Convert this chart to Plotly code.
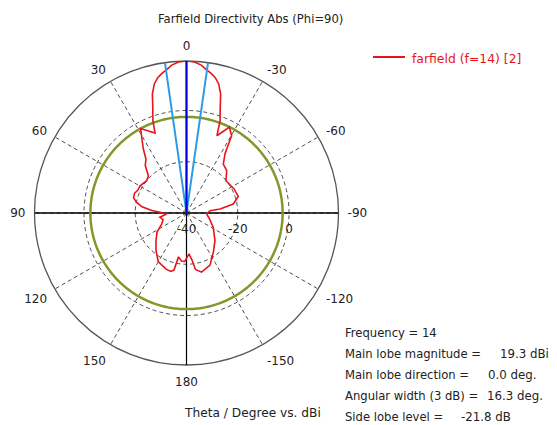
import plotly.graph_objects as go
import numpy as np

# ---- data ----
theta_deg = [0, 3, 5.7, 8.15, 10, 12, 14, 16, 17.7, 20, 21.5, 28.5, 31, 34, 37, 41, 45.7, 51,
             59.6, 65, 69, 74, 78, 82, 86, 88.5, 93, 99, 106, 114, 123, 132.6, 141.3, 149.8,
             160, 165, 167.6, 169.7, 174, 178, 183.5, 186.7, 189, 194.3, 204.3, 214.5, 225.8,
             242, 257.5, 267, 275.6, 276.8, 280.9, 287.7, 296.8, 309.3, 316.5, 323.1, 326.9,
             327.9, 329.7, 333.5, 338.5, 340, 342.3, 344, 346, 348, 350, 351.85, 354.3, 357, 360]
directivity_dbi = [19.3, 19.0, 18.0, 16.3, 15.3, 14.0, 11.9, 8.3, 3.3, -1.7, -6.5, -2.5, -6.2, -9.9,
                   -13.7, -15.5, -19.2, -20.0, -19.0, -19.0, -18.3, -18.5, -20.1, -22.5, -26.4,
                   -29.7, -32.2, -29.5, -30.5, -29.4, -26.3, -23.8, -21.0, -18.1, -16.7, -16.4,
                   -17.2, -22.6, -21.2, -21.1, -24.0, -21.5, -17.7, -16.2, -17.7, -21.5, -24.5,
                   -28.2, -31.0, -32.1, -30.8, -26.8, -21.4, -18.8, -19.2, -20.1, -17.2, -16.1,
                   -12.5, -10.5, -5.1, -2.5, -7.6, -1.7, 3.3, 8.3, 11.9, 14.0, 15.3, 16.3, 18.0,
                   19.0, 19.3]

main_lobe_magnitude = 19.3      # dBi
main_lobe_direction = 0.0       # deg
angular_width_3db = 16.3        # deg
side_lobe_level = -21.8         # dB
r_min, r_max = -40, 19.3

angle_tickvals = [0, 30, 60, 90, 120, 150, 180, 210, 240, 270, 300, 330]
angle_ticktext = ["0", "30", "60", "90", "120", "150", "180", "-150", "-120", "-90", "-60", "-30"]
radial_tickvals = [-40, -20, 0]
radial_ticktext = ["-40", "-20", "0"]

FONT = "DejaVu Sans"
FS = 11.5
TXT = "#222"
W, H = 557, 425

fig = go.Figure()

# solid cross axes
fig.add_trace(go.Scatterpolar(r=[r_max, r_min, r_max], theta=[90, 90, 270], mode="lines",
                              line=dict(color="black", width=1.3), hoverinfo="skip"))
fig.add_trace(go.Scatterpolar(r=[r_max, r_min, r_max], theta=[0, 0, 180], mode="lines",
                              line=dict(color="black", width=1.2), hoverinfo="skip"))

# side lobe level circle
circ_theta = np.linspace(0, 360, 361)
fig.add_trace(go.Scatterpolar(r=[main_lobe_magnitude + side_lobe_level] * len(circ_theta),
                              theta=circ_theta, mode="lines",
                              line=dict(color="#7f9a2a", width=2.5), hoverinfo="skip"))

# farfield pattern
fig.add_trace(go.Scatterpolar(r=directivity_dbi, theta=theta_deg, mode="lines",
                              line=dict(color="#e8141c", width=1.6), hoverinfo="skip"))

# 3 dB beamwidth lines
half = angular_width_3db / 2
fig.add_trace(go.Scatterpolar(r=[r_max, r_min, r_max],
                              theta=[main_lobe_direction + half, main_lobe_direction,
                                     main_lobe_direction - half],
                              mode="lines", line=dict(color="#2f9be6", width=2), hoverinfo="skip"))
# main lobe direction
fig.add_trace(go.Scatterpolar(r=[r_min, r_max], theta=[main_lobe_direction, main_lobe_direction],
                              mode="lines", line=dict(color="#0000e0", width=2.2), hoverinfo="skip"))

# radial tick labels below the horizontal axis
fig.add_trace(go.Scatterpolar(r=radial_tickvals, theta=[270] * len(radial_tickvals),
                              mode="markers+text",
                              marker=dict(size=16, color="rgba(0,0,0,0)"),
                              text=radial_ticktext, textposition="bottom center",
                              textfont=dict(family=FONT, size=12, color=TXT),
                              hoverinfo="skip"))

fig.update_layout(
    width=W, height=H,
    margin=dict(l=0, r=0, t=0, b=0),
    paper_bgcolor="white",
    showlegend=False,
    font=dict(family=FONT, size=FS, color=TXT),
    polar=dict(
        domain=dict(x=[34.5 / W, 338.5 / W], y=[60 / H, 364 / H]),
        bgcolor="white",
        angularaxis=dict(rotation=90, direction="counterclockwise",
                         tickmode="array", tickvals=angle_tickvals, ticktext=angle_ticktext,
                         showgrid=True, gridcolor="#222", griddash="4px,3px", gridwidth=0.8,
                         showline=True, linecolor="#555", linewidth=1.3, layer="below traces",
                         ticks="outside", ticklen=6, tickcolor="rgba(0,0,0,0)",
                         tickfont=dict(family=FONT, size=12, color=TXT)),
        radialaxis=dict(range=[r_min, r_max], tickmode="array", tickvals=radial_tickvals,
                        showticklabels=False, ticks="", showline=False, layer="below traces",
                        showgrid=True, gridcolor="#222", griddash="4px,3px", gridwidth=0.8),
    ),
)

# title
fig.add_annotation(x=250 / W, y=1 - 19 / H, xref="paper", yref="paper",
                   text="Farfield Directivity Abs (Phi=90)", showarrow=False,
                   font=dict(family=FONT, size=11.6, color=TXT), xanchor="center", yanchor="middle")

# legend
fig.add_shape(type="line", xref="paper", yref="paper",
              x0=373 / W, x1=405 / W, y0=1 - 57 / H, y1=1 - 57 / H,
              line=dict(color="#e8141c", width=2))
fig.add_annotation(x=410 / W, y=1 - 58 / H, xref="paper", yref="paper",
                   text="farfield (f=14) [2]", showarrow=False,
                   font=dict(family=FONT, size=12.4, color="#e8141c"), xanchor="left", yanchor="middle")

# axis caption
fig.add_annotation(x=182 / W, y=1 - 413 / H, xref="paper", yref="paper",
                   text="Theta / Degree vs. dBi", showarrow=False,
                   font=dict(family=FONT, size=12.2, color=TXT), xanchor="left", yanchor="middle")

# info block
info_left = ["Frequency = 14", "Main lobe magnitude =", "Main lobe direction =",
             "Angular width (3 dB) =", "Side lobe level ="]
info_right = ["", f"{main_lobe_magnitude:.1f} dBi", f"{main_lobe_direction:.1f} deg.",
              f"{angular_width_3db:.1f} deg.", f"{side_lobe_level:.1f} dB"]
info_right_x = [0, 498, 486, 485, 459]
info_y = [333, 354, 375, 396, 417]
for lt, rt, rx, yy in zip(info_left, info_right, info_right_x, info_y):
    fig.add_annotation(x=343 / W, y=1 - yy / H, xref="paper", yref="paper", text=lt,
                       showarrow=False, font=dict(family=FONT, size=11.6, color=TXT),
                       xanchor="left", yanchor="middle")
    if rt:
        fig.add_annotation(x=rx / W, y=1 - yy / H, xref="paper", yref="paper", text=rt,
                           showarrow=False, font=dict(family=FONT, size=11.8, color=TXT),
                           xanchor="left", yanchor="middle")

fig.write_html("out.html", config={"displayModeBar": False, "staticPlot": True},
               post_script="document.body.style.margin='0';document.body.style.overflow='hidden';")
